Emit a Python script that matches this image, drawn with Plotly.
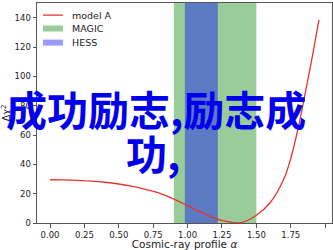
import plotly.graph_objects as go

# Data
alpha = [0.0, 0.1, 0.2, 0.3, 0.4, 0.5, 0.6, 0.7, 0.8, 0.9, 1.0, 1.1, 1.2, 1.3,
         1.36, 1.4, 1.5, 1.6, 1.7, 1.75, 1.8, 1.85, 1.9, 1.955]
dchi2 = [29.5, 29.4, 29.1, 28.6, 27.8, 26.6, 25.0, 22.8, 20.2, 16.3, 11.8, 7.3, 3.2, 0.7,
         0.0, 0.4, 5.3, 13.8, 30.0, 44.0, 63.0, 86.0, 110.0, 138.5]
magic_range = [0.9, 1.5]
hess_range = [0.98, 1.22]
y_span = [0, 150]
x_ticks = [0.0, 0.25, 0.5, 0.75, 1.0, 1.25, 1.5, 1.75, 2.0]
y_ticks = [0, 20, 40, 60, 80, 100, 120, 140]
legend_names = ["model A", "MAGIC", "HESS"]
overlay_lines = ["成功励志,励志成", "功,"]

RED = "#e8322c"
GREEN_A = "rgba(0,128,0,0.4)"
BLUE_A = "rgba(0,0,255,0.4)"

fig = go.Figure()

fig.add_trace(go.Scatter(
    x=[magic_range[0], magic_range[1], magic_range[1], magic_range[0], magic_range[0]],
    y=[y_span[0], y_span[0], y_span[1], y_span[1], y_span[0]],
    fill="toself", mode="none", fillcolor=GREEN_A, name=legend_names[1],
))
fig.add_trace(go.Scatter(
    x=[hess_range[0], hess_range[1], hess_range[1], hess_range[0], hess_range[0]],
    y=[y_span[0], y_span[0], y_span[1], y_span[1], y_span[0]],
    fill="toself", mode="none", fillcolor=BLUE_A, name=legend_names[2],
))
fig.add_trace(go.Scatter(
    x=alpha, y=dchi2, mode="lines", line=dict(color=RED, width=1.3, shape="spline"),
    name=legend_names[0],
))

fig.update_layout(
    width=333, height=250,
    margin=dict(l=37, r=1, t=3, b=27),
    paper_bgcolor="white", plot_bgcolor="white",
    font=dict(family="DejaVu Sans", color="#222", size=9),
    showlegend=False,
    xaxis=dict(range=[-0.095, 2.05], tickvals=x_ticks, tickformat=".2f",
               showline=True, mirror=True, linecolor="#555", linewidth=1,
               ticks="outside", ticklen=3.5, tickcolor="#555", showgrid=False, zeroline=False,
               tickfont=dict(size=8.5),
               title=dict(text="Cosmic-ray profile <i>α</i>", font=dict(size=10.5), standoff=2)),
    yaxis=dict(range=y_span, tickvals=y_ticks,
               showline=True, mirror=True, linecolor="#555", linewidth=1,
               ticks="outside", ticklen=3.5, tickcolor="#555", showgrid=False, zeroline=False,
               tickfont=dict(size=8.5),
               title=dict(text="Δχ<sup>2</sup>", font=dict(size=10), standoff=3)),
)

# Custom legend (matplotlib-like, frameless)
x0, x1, xt = 0.0203, 0.088, 0.112
rows_y = [0.945, 0.884, 0.820]
half_h = 0.0136
fig.add_shape(type="line", xref="paper", yref="paper", x0=x0, x1=x1, y0=rows_y[0], y1=rows_y[0],
              line=dict(color=RED, width=1.3))
fig.add_shape(type="rect", xref="paper", yref="paper", x0=x0, x1=x1,
              y0=rows_y[1] - half_h, y1=rows_y[1] + half_h, fillcolor=GREEN_A, line=dict(width=0))
fig.add_shape(type="rect", xref="paper", yref="paper", x0=x0, x1=x1,
              y0=rows_y[2] - half_h, y1=rows_y[2] + half_h, fillcolor=BLUE_A, line=dict(width=0))
for name, yy in zip(legend_names, rows_y):
    fig.add_annotation(text=name, xref="paper", yref="paper", x=xt, y=yy,
                       xanchor="left", yanchor="middle", showarrow=False,
                       font=dict(size=9.5, family="DejaVu Sans", color="#222"))

fig.add_annotation(text=overlay_lines[0], xref="paper", yref="paper", x=0.403, y=0.523,
                   xanchor="center", yanchor="middle", showarrow=False,
                   font=dict(family="Noto Sans CJK SC", size=41, color="#0000ee", weight="bold"))
fig.add_annotation(text=overlay_lines[1], xref="paper", yref="paper", x=0.393, y=0.323,
                   xanchor="center", yanchor="middle", showarrow=False,
                   font=dict(family="Noto Sans CJK SC", size=41, color="#0000ee", weight="bold"))

fig.write_html("out.html")
